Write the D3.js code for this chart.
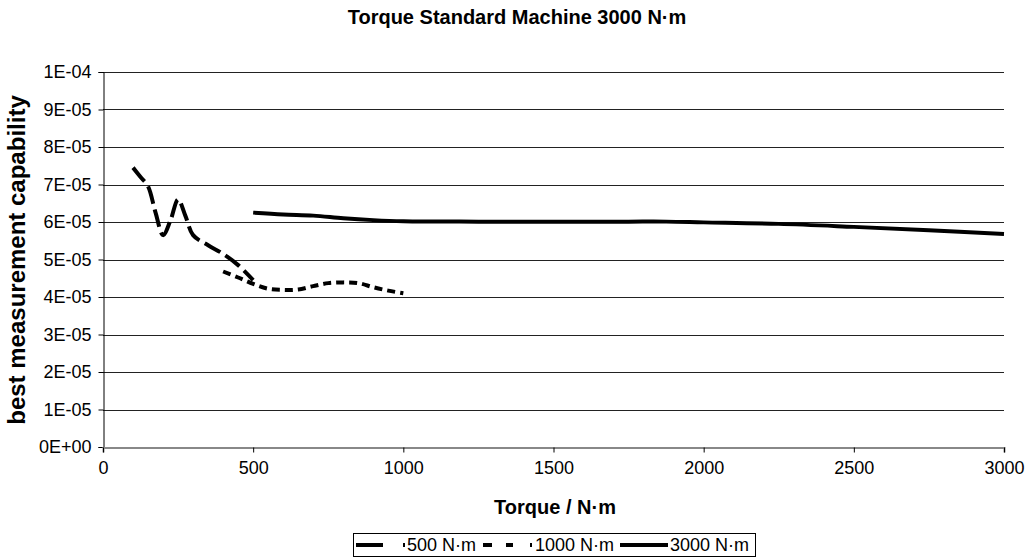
<!DOCTYPE html>
<html>
<head>
<meta charset="utf-8">
<script src="https://cdn.jsdelivr.net/npm/d3@7"></script>
<style>
  html, body { margin: 0; padding: 0; background: #fff; }
  svg { display: block; font-family: "Liberation Sans", Arial, sans-serif; }
</style>
</head>
<body>
<svg id="chart" width="1031" height="560"></svg>
<script>
// ---- data ----
const chartTitle = "Torque Standard Machine 3000 N·m";
const xTitle = "Torque / N·m";
const yTitle = "best measurement capability";
const seriesNames = ["500 N·m", "1000 N·m", "3000 N·m"];

const torque500 = [100, 125, 150, 175, 200, 225, 250, 275, 300, 350, 400, 450, 500];
const bmc500    = [7.45e-5, 7.2e-5, 6.95e-5, 6.25e-5, 5.65e-5, 6.05e-5, 6.6e-5, 6.15e-5, 5.65e-5, 5.38e-5, 5.15e-5, 4.85e-5, 4.45e-5];

const torque1000 = [400, 450, 500, 550, 600, 650, 700, 750, 800, 850, 900, 950, 1000];
const bmc1000    = [4.68e-5, 4.52e-5, 4.35e-5, 4.22e-5, 4.19e-5, 4.2e-5, 4.29e-5, 4.37e-5, 4.39e-5, 4.37e-5, 4.26e-5, 4.17e-5, 4.1e-5];

const torque3000 = [500, 600, 700, 800, 900, 1000, 1250, 1500, 1750, 1875, 2000, 2250, 2500, 2750, 3000];
const bmc3000    = [6.25e-5, 6.2e-5, 6.17e-5, 6.1e-5, 6.05e-5, 6.02e-5, 6.01e-5, 6.01e-5, 6.01e-5, 6.01e-5, 5.99e-5, 5.95e-5, 5.87e-5, 5.78e-5, 5.68e-5];

const xTicks = [0, 500, 1000, 1500, 2000, 2500, 3000];
const yTicks = [0, 1e-5, 2e-5, 3e-5, 4e-5, 5e-5, 6e-5, 7e-5, 8e-5, 9e-5, 1e-4];
const yTickLabels = ["0E+00", "1E-05", "2E-05", "3E-05", "4E-05", "5E-05", "6E-05", "7E-05", "8E-05", "9E-05", "1E-04"];

// ---- layout ----
const svg = d3.select("#chart");
const m = { left: 103, right: 1004, top: 72, bottom: 447 };
const x = d3.scaleLinear().domain([0, 3000]).range([m.left, m.right]);
const y = d3.scaleLinear().domain([0, 1e-4]).range([m.bottom, m.top]);
const FONT = "Liberation Sans, Arial, sans-serif";

// gridlines
svg.append("g").selectAll("line").data(yTicks.filter(d => d > 0)).join("line")
  .attr("x1", m.left).attr("x2", m.right)
  .attr("y1", d => Math.round(y(d)) + 0.5).attr("y2", d => Math.round(y(d)) + 0.5)
  .attr("stroke", "#222").attr("stroke-width", 1);

// y axis
const yAxis = d3.axisLeft(y).tickValues(yTicks).tickSize(5)
  .tickFormat((d, i) => yTickLabels[i]);
const gy = svg.append("g").attr("transform", `translate(${m.left + 0.5},0)`).call(yAxis);
gy.select(".domain").attr("stroke", "#000");
gy.selectAll(".tick line").attr("stroke", "#000");
gy.selectAll(".tick text").attr("font-size", 18).attr("fill", "#000")
  .attr("font-family", FONT).attr("x", -12);

// x axis
const xAxis = d3.axisBottom(x).tickValues(xTicks).tickSize(5).tickFormat(d3.format("d"));
const gx = svg.append("g").attr("transform", `translate(0,${m.bottom + 0.5})`).call(xAxis);
gx.select(".domain").attr("stroke", "#888").attr("stroke-width", 2);
gx.selectAll(".tick line").attr("stroke", "#000");
gx.selectAll(".tick text").attr("font-size", 18).attr("fill", "#000")
  .attr("font-family", FONT).attr("y", 14);

// series
const line = d3.line().x(d => x(d[0])).y(d => y(d[1])).curve(d3.curveCatmullRom.alpha(0.5));
const series = [
  { pts: d3.zip(torque500, bmc500), dash: "18,6" },
  { pts: d3.zip(torque1000, bmc1000), dash: "8,5" },
  { pts: d3.zip(torque3000, bmc3000), dash: null }
];
svg.append("g").selectAll("path").data(series).join("path")
  .attr("d", d => line(d.pts))
  .attr("fill", "none").attr("stroke", "#000").attr("stroke-width", 4)
  .attr("stroke-dasharray", d => d.dash);

// titles
svg.append("text").attr("x", 517).attr("y", 24).attr("text-anchor", "middle")
  .attr("font-size", 20).attr("font-weight", "bold").text(chartTitle);
svg.append("text").attr("x", 555).attr("y", 514).attr("text-anchor", "middle")
  .attr("font-size", 20).attr("font-weight", "bold").text(xTitle);
svg.append("text").attr("transform", "translate(25,260) rotate(-90)").attr("text-anchor", "middle")
  .attr("font-size", 24).attr("font-weight", "bold").text(yTitle);

// legend
const lg = svg.append("g");
lg.append("rect").attr("x", 353.5).attr("y", 533.5).attr("width", 402).attr("height", 23)
  .attr("fill", "#fff").attr("stroke", "#000");
const legendItems = [
  { x0: 356, x1: 405, tx: 407, dash: "27,20,3,100" },
  { x0: 483, x1: 533, tx: 535, dash: "9,14,7,17,2,100" },
  { x0: 620, x1: 668, tx: 670, dash: null }
];
legendItems.forEach((it, i) => {
  lg.append("line").attr("x1", it.x0).attr("x2", it.x1).attr("y1", 545).attr("y2", 545)
    .attr("stroke", "#000").attr("stroke-width", 4).attr("stroke-dasharray", it.dash);
  lg.append("text").attr("x", it.tx).attr("y", 551).attr("font-size", 18).text(seriesNames[i]);
});
</script>
</body>
</html>
